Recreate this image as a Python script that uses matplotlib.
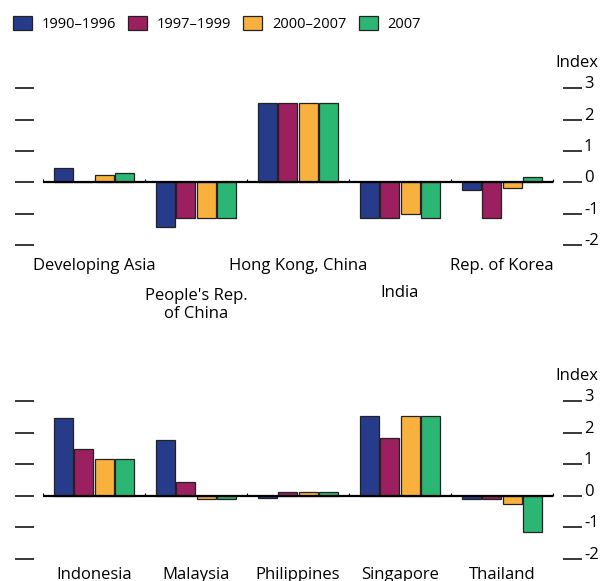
import matplotlib
matplotlib.use("Agg")
import matplotlib.pyplot as plt
import matplotlib.transforms as mtransforms
import numpy as np

plt.rcParams['font.family'] = ['Open Sans', 'DejaVu Sans']

series_names = ["1990\u20131996", "1997\u20131999", "2000\u20132007", "2007"]
colors = ["#263c8a", "#9c1f5f", "#f9b13d", "#2bb673"]

top_categories = ["Developing Asia", "People's Rep.\nof China", "Hong Kong, China", "India", "Rep. of Korea"]
top_values = [
    [0.45, -1.42, 2.54, -1.14, -0.24],
    [0.00, -1.14, 2.54, -1.14, -1.14],
    [0.24, -1.14, 2.54, -1.01, -0.18],
    [0.29, -1.14, 2.54, -1.14, 0.18],
]

bottom_categories = ["Indonesia", "Malaysia", "Philippines", "Singapore", "Thailand"]
bottom_values = [
    [2.48, 1.76, -0.08, 2.52, -0.10],
    [1.49, 0.44, 0.12, 1.83, -0.10],
    [1.16, -0.10, 0.12, 2.52, -0.25],
    [1.16, -0.10, 0.12, 2.52, -1.15],
]

y_ticks = [3, 2, 1, 0, -1, -2]
y_ticklabels = ["3", "2", "1", "0", "-1", "-2"]

W, H = 605, 581
fig = plt.figure(figsize=(W / 100, H / 100), dpi=100)


def fx(px):
    return px / W


def fy(py):
    return 1 - py / H


FS = 12
bar_step = 20.5 / 102
bar_width = 19 / 102


def make_panel(top_px, bottom_px, categories, values, label_rows):
    ax = fig.add_axes([fx(15), fy(bottom_px), fx(582) - fx(15), fy(top_px) - fy(bottom_px)])
    ax.set_xlim(-28 / 102, 539 / 102)
    ax.set_ylim(-2, 3)
    n = len(categories)
    x = np.arange(n) + 0.5
    handles = []
    for k, (vals, c, name) in enumerate(zip(values, colors, series_names)):
        b = ax.bar(x + (k - 1.5) * bar_step, vals, width=bar_width, color=c,
                   edgecolor="#222222", linewidth=0.9, label=name, zorder=2)
        handles.append(b)
    # zero line and category separators
    ax.plot([0, n], [0, 0], color="black", lw=1.6, zorder=3, solid_capstyle="butt")
    ax.vlines(np.arange(n + 1), 0, 0.1, color="black", lw=0.8, zorder=3)
    for s in ax.spines.values():
        s.set_visible(False)
    ax.set_xticks([])
    ax.set_yticks(y_ticks)
    ax.tick_params(axis="y", left=True, right=True, direction="in", length=13.7,
                   width=1.1, labelleft=False, labelright=False, color="black")
    trans = mtransforms.blended_transform_factory(fig.transFigure, ax.transData)
    for t, lab in zip(y_ticks, y_ticklabels):
        ax.text(fx(584), t, lab, transform=trans, ha="left", va="baseline", fontsize=FS)
    fig.text(fx(555), fy(top_px - 21), "Index", ha="left", va="baseline", fontsize=FS)
    for i, (cat, row) in enumerate(zip(categories, label_rows)):
        fig.text(fx(43 + 102 * (i + 0.5)), fy(row), cat, ha="center", va="baseline",
                 fontsize=FS, linespacing=1.15, multialignment="center")
    return ax, handles


ax1, handles = make_panel(88.3, 245.0, top_categories, top_values, [270, 317.5, 270, 297, 270])
ax2, _ = make_panel(401.3, 558.7, bottom_categories, bottom_values, [579, 579, 579, 579, 579])

fig.legend(handles=handles, labels=series_names, loc="center left",
           bbox_to_anchor=(fx(13), fy(24)), ncol=4, frameon=False, fontsize=10.5,
           handlelength=1.3, handleheight=1.1, handletextpad=0.68, columnspacing=0.82,
           borderpad=0, borderaxespad=0)

fig.savefig("out.png", dpi=100)
